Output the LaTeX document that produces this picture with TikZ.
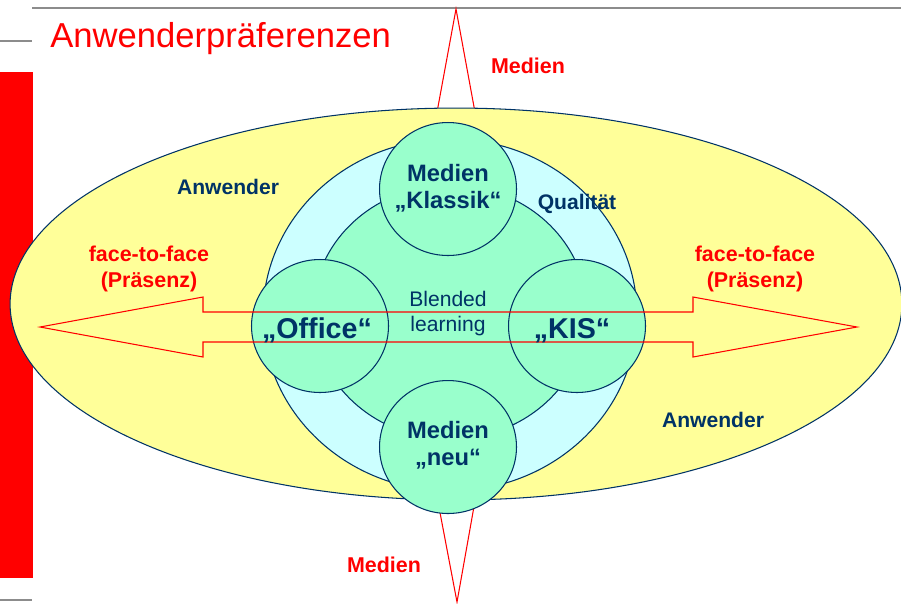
\documentclass[tikz,border=0pt]{standalone}
\usepackage{fontspec}
\setmainfont{Liberation Sans}
\usetikzlibrary{shapes.geometric}
\definecolor{gelb}{HTML}{FFFF99}
\definecolor{hellblau}{HTML}{CCFFFF}
\definecolor{mint}{HTML}{99FFCC}
\definecolor{dunkelblau}{HTML}{003366}
\definecolor{linie}{HTML}{8C8C8C}

\begin{document}
\begin{tikzpicture}[x=0.02cm, y=-0.02cm,
    kreis/.style={draw=dunkelblau, line width=0.6pt, ellipse, inner sep=0pt},
    rot/.style={text=red, font=\bfseries\fontsize{12.2}{14.8}\selectfont, align=center},
    blau/.style={text=dunkelblau, font=\bfseries\fontsize{12}{14}\selectfont},
    medien/.style={text=dunkelblau, font=\bfseries\fontsize{13.5}{15.6}\selectfont, align=center},
    gross/.style={text=dunkelblau, font=\bfseries\fontsize{16.3}{18}\selectfont},
    pfeil/.style={draw=red, line width=0.6pt, line join=miter}]
      \useasboundingbox (0,0) rectangle (901,603);
      % Rahmen der Folie
      \fill[red] (0,72) rectangle (33,578);
      \draw[linie, line width=0.7pt] (32,8) -- (901,8);
      \draw[linie, line width=0.7pt] (0,41) -- (32,41);
      \draw[linie, line width=0.7pt] (0,600) -- (32,600);
      \node[anchor=base west, text=red, font=\fontsize{19.7}{22}\selectfont, inner sep=0pt] (titel) at (50,47) {Anwenderpräferenzen};

      % Medien-Pfeil (hinten)
      \draw[pfeil] (456,9) -- (486,172) -- (471,172) -- (471,439) -- (486,439) -- (457,602)
        -- (426,439) -- (441,439) -- (441,172) -- (426,172) -- cycle;

      \node[kreis, fill=gelb, minimum width=17.84cm, minimum height=7.84cm] (anwender) at (456,304) {};
      \node[kreis, fill=hellblau, minimum width=7.48cm, minimum height=7.04cm] (qualitaet) at (450,315) {};
      \node[kreis, fill=mint, minimum width=5.48cm, minimum height=5.08cm] (blended) at (450,312) {};
      \node[kreis, fill=mint, minimum width=2.74cm, minimum height=2.66cm] (klassik) at (448,189) {};
      \node[kreis, fill=mint, minimum width=2.74cm, minimum height=2.66cm] (neu) at (448,447) {};
      \node[kreis, fill=mint, minimum width=2.74cm, minimum height=2.66cm] (office) at (320,326) {};
      \node[kreis, fill=mint, minimum width=2.74cm, minimum height=2.66cm] (kis) at (577,326) {};

      % face-to-face Pfeil (vorne)
      \draw[pfeil] (40,327) -- (203,297) -- (203,312) -- (693,312) -- (693,297) -- (857,327)
        -- (693,357) -- (693,342) -- (203,342) -- (203,357) -- cycle;

      \node[medien] (tklassik) at (448,188) {Medien\\„Klassik“};
      \node[medien] (tneu) at (448,445) {Medien\\„neu“};
      \node[gross, anchor=base] (toffice) at (317,338) {„Office“};
      \node[gross, anchor=base] (tkis) at (572,338) {„KIS“};
      \node[text=dunkelblau, font=\fontsize{12}{14.2}\selectfont, align=center] (tblended) at (448,314) {Blended\\learning};
      \node[blau, anchor=base] (tqualitaet) at (577,209) {Qualität};
      \node[blau, anchor=base] (tanw1) at (228,194) {Anwender};
      \node[blau, anchor=base] (tanw2) at (713,427) {Anwender};
      \node[rot, anchor=base] (tmedien1) at (528,73) {Medien};
      \node[rot, anchor=base] (tmedien2) at (384,572) {Medien};
      \node[rot] (tftf1) at (149,269) {face-to-face\\(Präsenz)};
      \node[rot] (tftf2) at (755,269) {face-to-face\\(Präsenz)};
    \end{tikzpicture}
\end{document}
